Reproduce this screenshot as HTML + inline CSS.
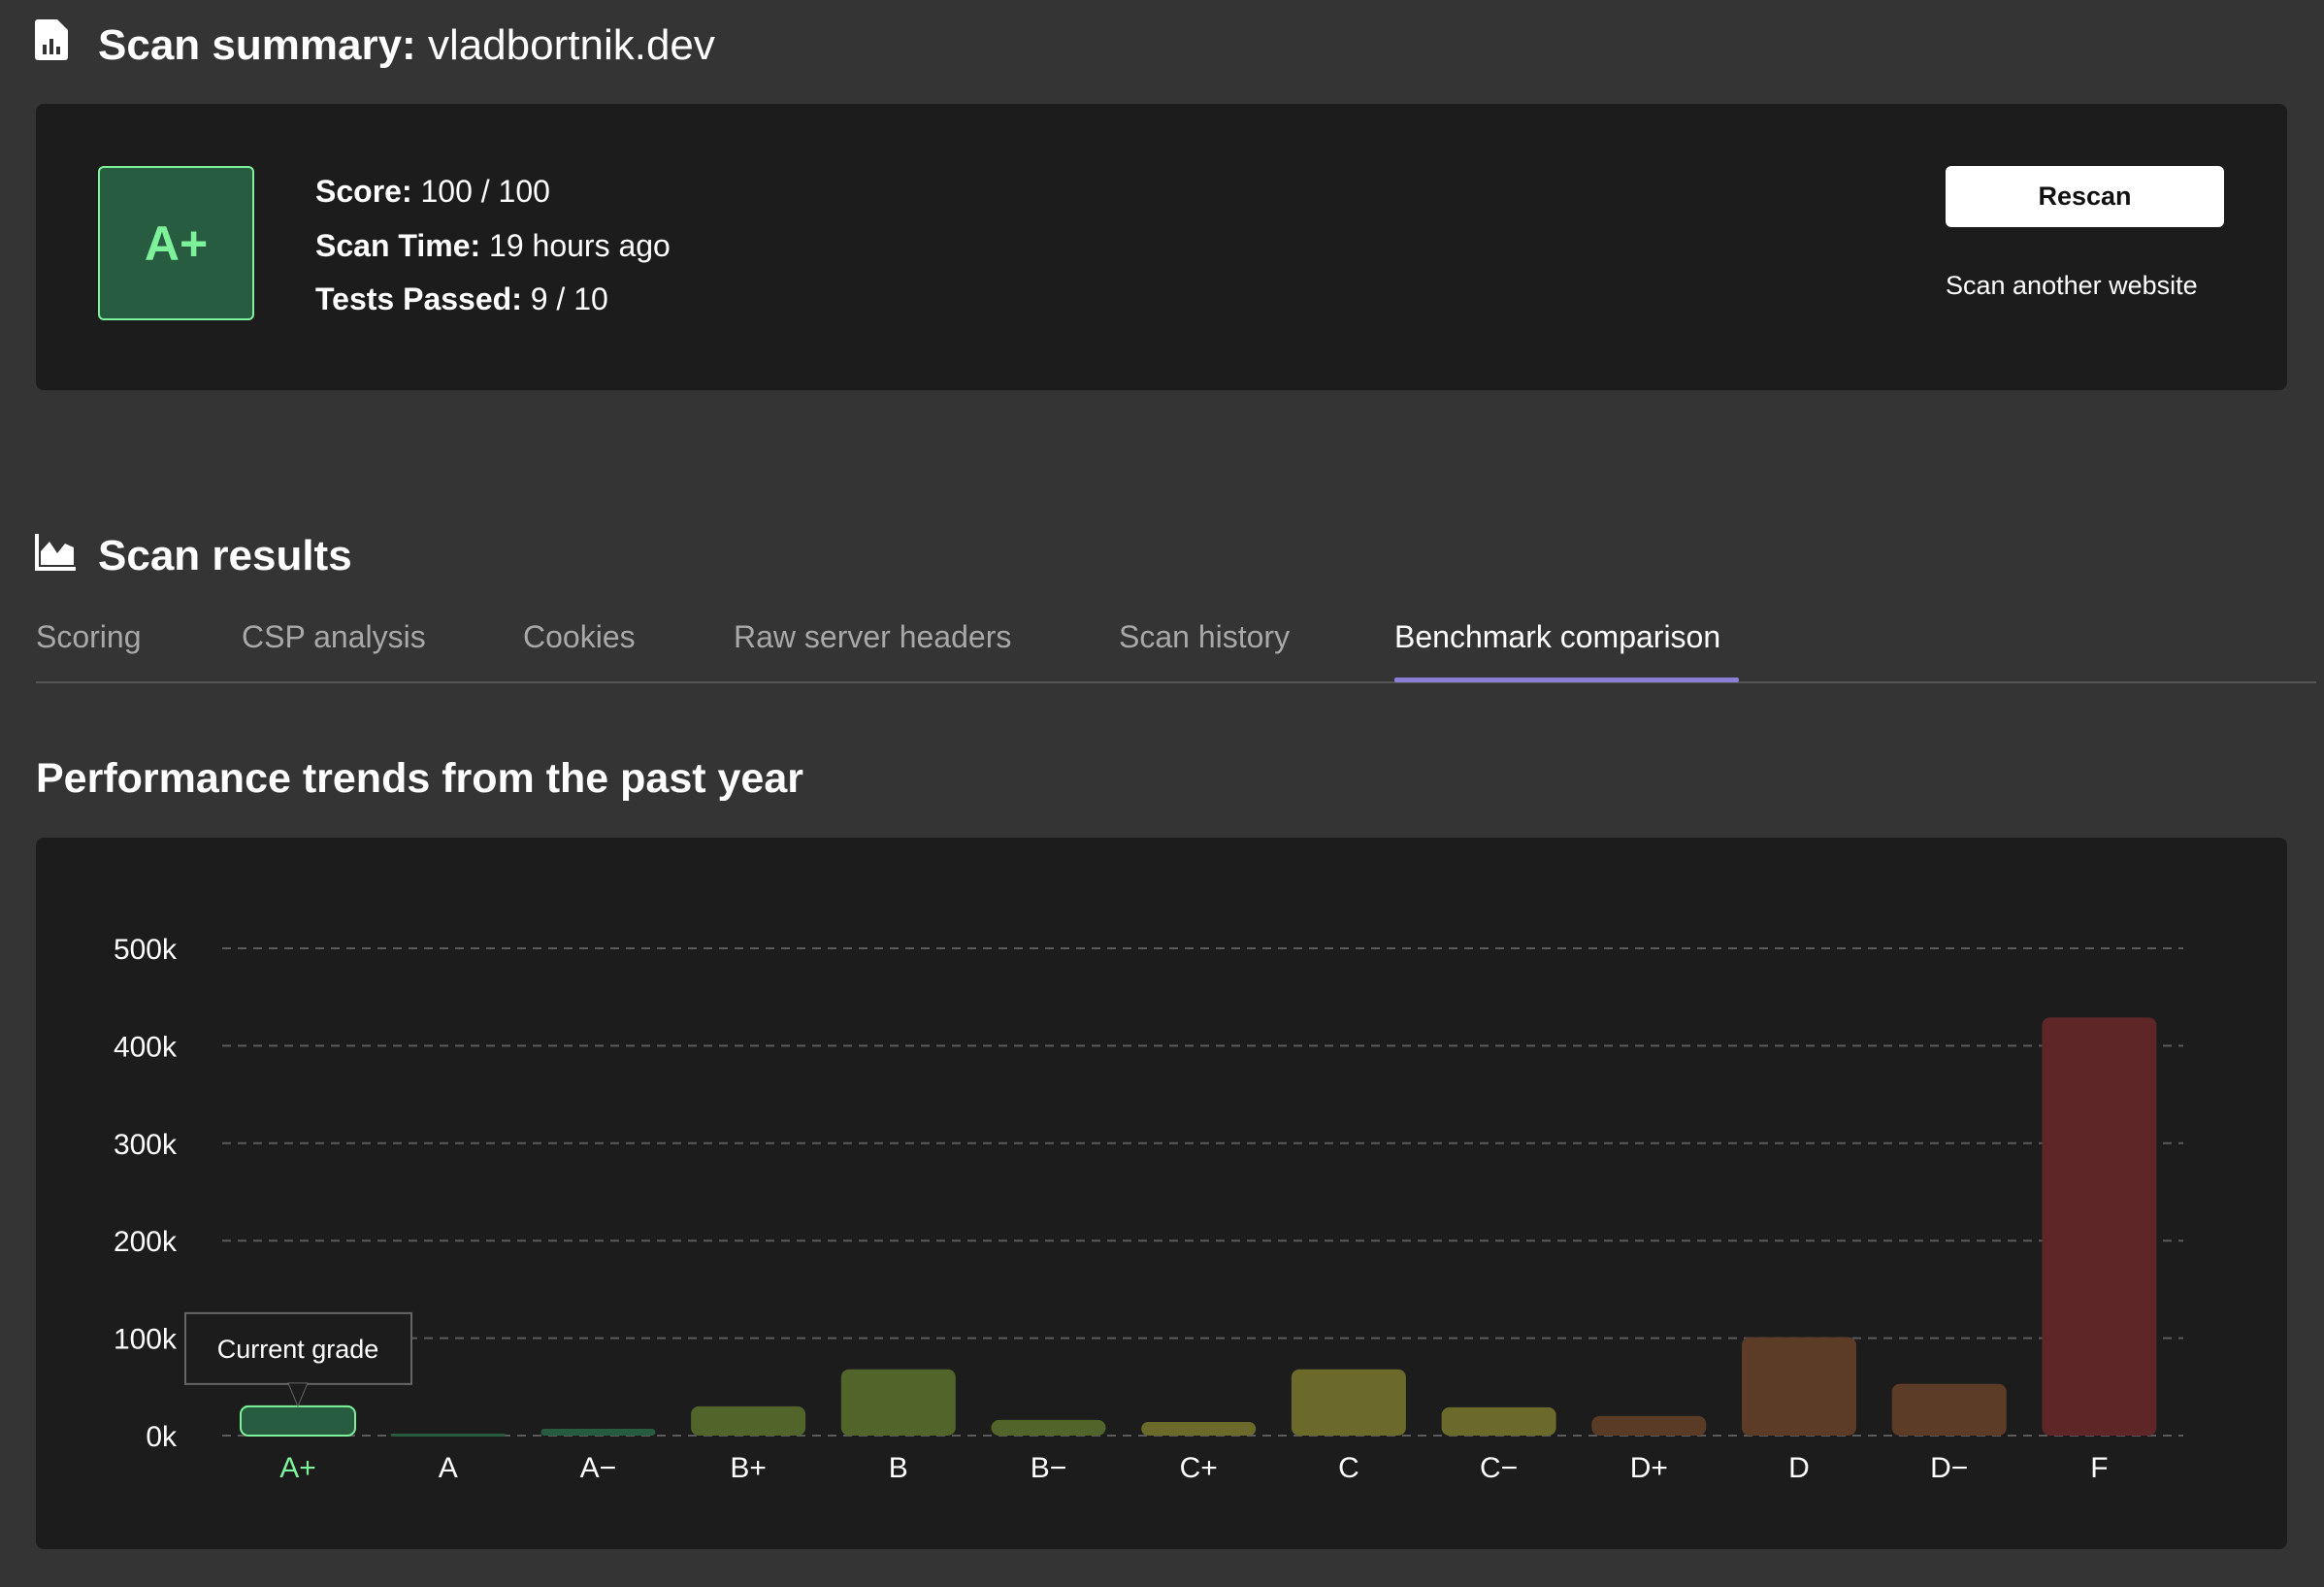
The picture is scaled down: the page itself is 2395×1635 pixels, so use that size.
<!DOCTYPE html>
<html><head><meta charset="utf-8"><style>
body{margin:0;width:2395px;height:1635px;background:#343434;font-family:"Liberation Sans",sans-serif;color:#fff;position:relative;overflow:hidden}
.abs{position:absolute}
h1,h2{margin:0;font-weight:bold}
.tab{position:absolute;top:638px;font-size:32px;color:#a8a8a8;white-space:nowrap}
.line{font-size:32px;position:absolute;left:325px;white-space:nowrap}
</style></head><body>
<svg class="abs" style="left:36px;top:20px" width="34" height="42" viewBox="0 0 34 42"><path d="M3 0h20l11 11v28a3 3 0 0 1-3 3H3a3 3 0 0 1-3-3V3a3 3 0 0 1 3-3z" fill="#fff"/><rect x="8" y="26" width="4" height="10" fill="#343434"/><rect x="15" y="20" width="4" height="16" fill="#343434"/><rect x="22" y="28" width="4" height="8" fill="#343434"/></svg>
<h1 class="abs" style="left:101px;top:22px;font-size:44px">Scan summary: <span style="font-weight:normal">vladbortnik.dev</span></h1>
<div class="abs" style="left:37px;top:107px;width:2320px;height:295px;background:#1c1c1c;border-radius:8px"></div>
<div class="abs" style="left:101px;top:171px;width:157px;height:155px;background:#285c40;border:2px solid #7ef29a;border-radius:6px;color:#7ef29a;font-size:50px;font-weight:bold;display:flex;align-items:center;justify-content:center">A+</div>
<div class="line" style="top:179px"><b>Score:</b> 100 / 100</div>
<div class="line" style="top:235px"><b>Scan Time:</b> 19 hours ago</div>
<div class="line" style="top:290px"><b>Tests Passed:</b> 9 / 10</div>
<div class="abs" style="left:2005px;top:171px;width:287px;height:63px;background:#fff;border-radius:6px;color:#111;font-size:27px;font-weight:bold;display:flex;align-items:center;justify-content:center">Rescan</div>
<div class="abs" style="left:2005px;top:279px;font-size:27px">Scan another website</div>
<svg class="abs" style="left:36px;top:550px" width="42" height="38" viewBox="0 0 42 38"><path d="M2 0v36h40" stroke="#fff" stroke-width="4" fill="none"/><path d="M6 32V18l9-10 8 12 8-10 9 4v18z" fill="#fff"/></svg>
<h2 class="abs" style="left:101px;top:548px;font-size:44px">Scan results</h2>
<div class="tab" style="left:37px">Scoring</div>
<div class="tab" style="left:249px">CSP analysis</div>
<div class="tab" style="left:539px">Cookies</div>
<div class="tab" style="left:756px">Raw server headers</div>
<div class="tab" style="left:1153px">Scan history</div>
<div class="tab" style="left:1437px;color:#fff">Benchmark comparison</div>
<div class="abs" style="left:37px;top:702px;width:2350px;height:2px;background:#555"></div>
<div class="abs" style="left:1437px;top:698px;width:355px;height:5px;background:#8b7fd6;border-radius:2px"></div>
<h2 class="abs" style="left:37px;top:778px;font-size:43px">Performance trends from the past year</h2>
<div class="abs" style="left:37px;top:863px;width:2320px;height:733px;background:#1c1c1c;border-radius:8px"></div>
<svg id="chart" class="abs" style="left:0;top:0" width="2395" height="1635"></svg>
<script>
const categories=["A+","A","A−","B+","B","B−","C+","C","C−","D+","D","D−","F"];
const counts=[30000,2000,7000,30000,68000,16000,14000,68000,29000,20000,101000,53000,429000];
const barColors=["#285c40","#285c40","#285c40","#51652a","#51652a","#51652a","#6b6a2a","#6b6a2a","#6b6a2a","#5a3b26","#5c3c26","#5c3c26","#5e2627"];
const yTicks=[0,100000,200000,300000,400000,500000];
const yTickLabels=["0k","100k","200k","300k","400k","500k"];
const currentGrade="A+";
const NS="http://www.w3.org/2000/svg";
const svg=document.getElementById('chart');
const y0=1479,pxPer=502/500000,x0=307,step=154.7,bw=118;
const yScale=v=>y0-v*pxPer;
const xScale=i=>x0+i*step;
function mk(t,a){const e=document.createElementNS(NS,t);for(const k in a)e.setAttribute(k,a[k]);svg.appendChild(e);return e;}
yTicks.forEach((v,i)=>{
 const l=mk('line',{x1:229,x2:2250,y1:yScale(v),y2:yScale(v),stroke:'#5a5a5a','stroke-width':2,'stroke-dasharray':'9 7'});
 
 
 const t=mk('text',{x:182,y:yScale(v)+11,'text-anchor':'end','font-size':30,fill:'#fff','font-family':'Liberation Sans, sans-serif'});
 t.textContent=yTickLabels[i];
 
 
});
categories.forEach((c,i)=>{
 const top=yScale(counts[i]),h=y0-top,cur=c===currentGrade;
 const r=mk('rect',{x:xScale(i)-bw/2,y:top,width:bw,height:Math.max(h,3),rx:Math.min(8,h/2),fill:barColors[i],stroke:cur?'#7ef29a':'none','stroke-width':cur?2:0});
 
 
 const t=mk('text',{x:xScale(i),y:1522,'text-anchor':'middle','font-size':30,fill:cur?'#7ef29a':'#fff','font-family':'Liberation Sans, sans-serif'});
 t.textContent=c;
 
 
});
const ci=categories.indexOf(currentGrade),cx=xScale(ci),ct=yScale(counts[ci]);
const g=mk('g',{});


const box=mk('rect',{x:cx-116,y:ct-96,width:233,height:73,fill:'#1c1c1c',stroke:'#666','stroke-width':2});


const ar=mk('path',{d:`M${cx-10} ${ct-24}L${cx} ${ct}L${cx+10} ${ct-24}Z`,fill:'#1c1c1c',stroke:'#666','stroke-width':1});


const tt=mk('text',{x:cx,y:ct-50,'text-anchor':'middle','font-size':27,fill:'#fff','font-family':'Liberation Sans, sans-serif'});
tt.textContent='Current grade';


</script>
</body></html>
